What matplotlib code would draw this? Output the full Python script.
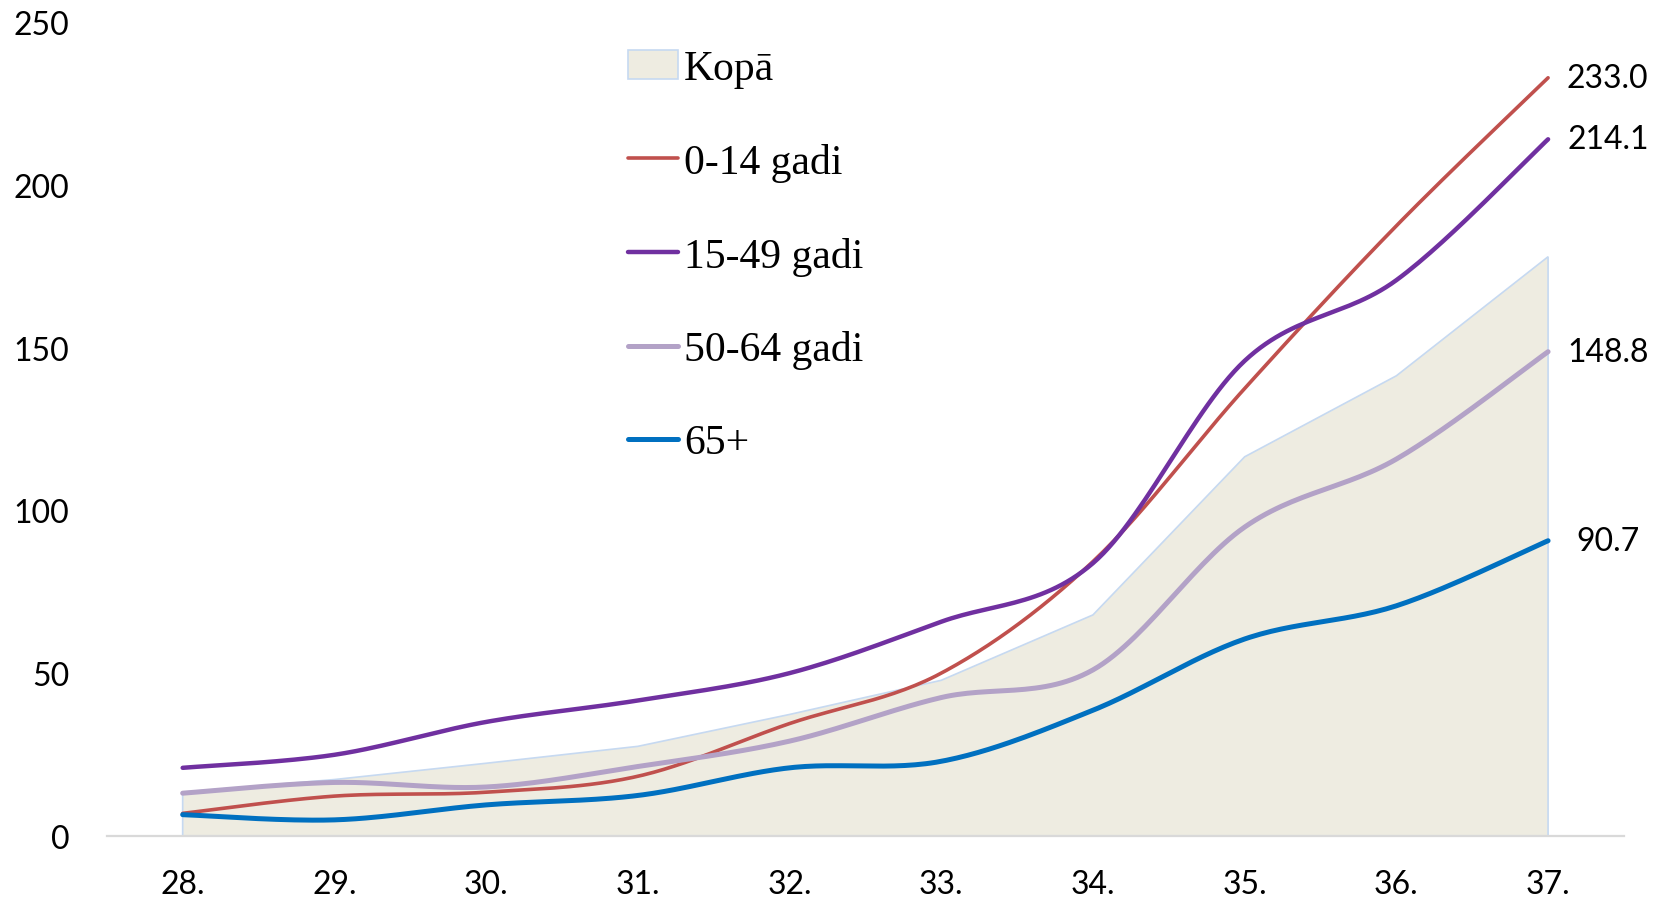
import numpy as np
import matplotlib.pyplot as plt

# categories and series
periods = ["28.", "29.", "30.", "31.", "32.", "33.", "34.", "35.", "36.", "37."]
kopa = [13.4, 17.3, 22.3, 27.5, 37.3, 47.8, 67.9, 116.5, 141.4, 178.0]
age_0_14 = [6.9, 12.2, 13.4, 18.3, 34.5, 50.0, 84.3, 137.5, 187.5, 233.0]
age_15_49 = [20.9, 24.9, 35.0, 41.6, 50.0, 65.8, 83.8, 146.0, 170.8, 214.1]
age_50_64 = [13.1, 16.4, 15.0, 21.3, 29.1, 42.5, 51.0, 94.9, 115.8, 148.8]
age_65 = [6.5, 4.9, 9.5, 12.4, 20.9, 22.9, 38.6, 60.5, 70.7, 90.7]

series = [
    ("0-14 gadi", age_0_14, "#C0504D", 2.6),
    ("15-49 gadi", age_15_49, "#7030A0", 3.2),
    ("50-64 gadi", age_50_64, "#B3A2C7", 3.6),
    ("65+", age_65, "#0070C0", 3.6),
]


def smooth(x, y, n=30):
    # Excel-like smoothed line: cubic Bezier through points
    x = np.asarray(x, float)
    y = np.asarray(y, float)
    px = np.concatenate([[x[0]], x, [x[-1]]])
    py = np.concatenate([[y[0]], y, [y[-1]]])
    xs, ys = [], []
    t = np.linspace(0, 1, n)
    for i in range(1, len(px) - 2):
        p0 = np.array([px[i], py[i]])
        p3 = np.array([px[i + 1], py[i + 1]])
        c1 = p0 + (p3 - np.array([px[i - 1], py[i - 1]])) / 6
        c2 = p3 - (np.array([px[i + 2], py[i + 2]]) - p0) / 6
        pts = ((1 - t) ** 3)[:, None] * p0 + (3 * (1 - t) ** 2 * t)[:, None] * c1 \
            + (3 * (1 - t) * t ** 2)[:, None] * c2 + (t ** 3)[:, None] * p3
        xs.append(pts[:, 0])
        ys.append(pts[:, 1])
    return np.concatenate(xs), np.concatenate(ys)


fig = plt.figure(figsize=(16.69, 9.03), dpi=100)
ax = fig.add_axes([0.064, 0.0733, 0.909, 0.9007])

x = np.arange(len(periods))

# Kopā area
ax.fill(np.concatenate([[x[0]], x, [x[-1]]]), np.concatenate([[0], kopa, [0]]),
        facecolor="#EEECE1", edgecolor="#C6D9F1", linewidth=1.2, zorder=1, label="Kopā")

for name, vals, color, lw in series:
    sx, sy = smooth(x, vals)
    ax.plot(sx, sy, color=color, linewidth=lw, solid_capstyle="round", zorder=3, label=name)
    ax.annotate(f"{vals[-1]:.1f}", (x[-1], vals[-1]), xytext=(43, 0),
                textcoords="offset points", ha="center", va="center",
                fontsize=23, family="Lato", color="black")

ax.set_xlim(-0.5, 9.5)
ax.set_ylim(0, 250)
ax.set_yticks([0, 50, 100, 150, 200, 250])
ax.set_xticks(x)
ax.set_xticklabels(periods)
for lab in ax.get_xticklabels() + ax.get_yticklabels():
    lab.set_family("Lato")
    lab.set_fontsize(23)
ax.tick_params(axis="both", length=0)
ax.tick_params(axis="x", pad=24)
ax.tick_params(axis="y", pad=27)

for side in ["top", "right", "left"]:
    ax.spines[side].set_visible(False)
ax.spines["bottom"].set_color("#D9D9D9")
ax.spines["bottom"].set_linewidth(1.6)
ax.spines["bottom"].set_zorder(5)

ax.legend(loc="upper left", bbox_to_anchor=(0.366, 0.962), bbox_transform=fig.transFigure,
          frameon=False, prop={"family": "Liberation Serif", "size": 30},
          handlelength=1.2, handletextpad=0.15, labelspacing=1.31, borderaxespad=0)

fig.savefig("out.png", dpi=100)
